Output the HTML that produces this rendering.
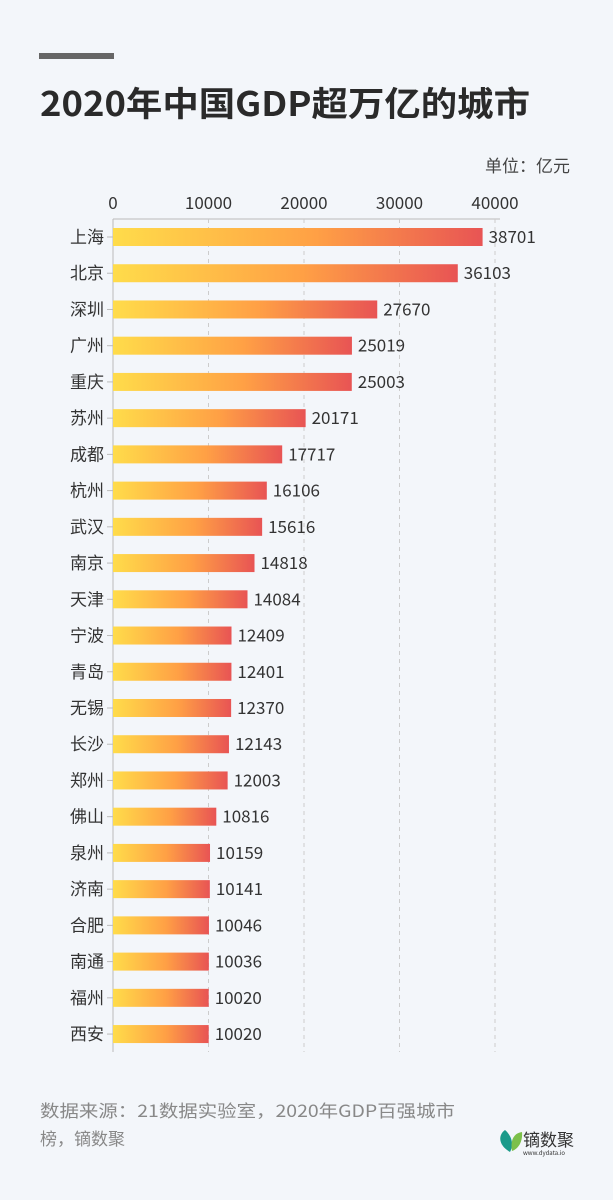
<!DOCTYPE html>
<html><head><meta charset="utf-8"><style>
body{margin:0;background:#f3f6fa;}
svg{display:block;font-family:"Noto Sans CJK SC",sans-serif;}
</style></head><body>
<svg width="613" height="1200" viewBox="0 0 613 1200">
<defs><linearGradient id="g" x1="0" x2="1" y1="0" y2="0">
<stop offset="0" stop-color="#ffdc4a"/><stop offset="0.55" stop-color="#ffa045"/><stop offset="1" stop-color="#e85454"/></linearGradient></defs>
<rect width="613" height="1200" fill="#f3f6fa"/>
<rect x="39" y="53" width="75" height="6" fill="#666"/>
<text x="40" y="116" font-size="34" font-weight="bold" fill="#2a2a2a" textLength="490" lengthAdjust="spacingAndGlyphs">2020年中国GDP超万亿的城市</text>
<text x="570" y="172" font-size="17" fill="#444" text-anchor="end">单位：亿元</text>
<g font-size="17" fill="#333" text-anchor="middle">
<text x="113" y="209">0</text><text x="208.5" y="209">10000</text><text x="304" y="209">20000</text><text x="399.5" y="209">30000</text><text x="495" y="209">40000</text>
</g>
<line x1="113" y1="219" x2="500" y2="219" stroke="#bbb"/>
<line x1="113" y1="219" x2="113" y2="1052" stroke="#bbb"/>
<g stroke="#ccc" stroke-dasharray="4,4"><line x1="208.5" y1="219" x2="208.5" y2="1052"/><line x1="304" y1="219" x2="304" y2="1052"/><line x1="399.5" y1="219" x2="399.5" y2="1052"/><line x1="495" y1="219" x2="495" y2="1052"/></g>
<g id="bars" font-size="17" fill="#333"></g>
<text x="40" y="1117" font-size="17" fill="#888" textLength="415" lengthAdjust="spacingAndGlyphs">数据来源：21数据实验室，2020年GDP百强城市</text>
<text x="40" y="1145" font-size="17" fill="#888">榜，镝数聚</text>
<path d="M510 1152 C498 1145 498 1135 505 1130 C512 1136 514 1145 510 1152Z" fill="#1a9a8a"/>
<path d="M512 1151 C510 1140 514 1133 522 1132 C523 1142 518 1149 512 1151Z" fill="#7cc04a"/>
<text x="523" y="1146" font-size="17" fill="#333">镝数聚</text>
<text x="523" y="1155" font-size="6" fill="#333">www.dydata.io</text>
</svg>
<script>
var d=[["上海",38701],["北京",36103],["深圳",27670],["广州",25019],["重庆",25003],["苏州",20171],["成都",17717],["杭州",16106],["武汉",15616],["南京",14818],["天津",14084],["宁波",12409],["青岛",12401],["无锡",12370],["长沙",12143],["郑州",12003],["佛山",10816],["泉州",10159],["济南",10141],["合肥",10046],["南通",10036],["福州",10020],["西安",10020]];
var g=document.getElementById("bars"),s="";
d.forEach(function(r,i){var cy=237+i*36.23,w=r[1]*0.00955;
s+='<line x1="107" y1="'+cy+'" x2="113" y2="'+cy+'" stroke="#bbb"/>';
s+='<rect x="113" y="'+(cy-9)+'" width="'+w+'" height="18" fill="url(#g)"/>';
s+='<text x="104" y="'+(cy+6)+'" text-anchor="end">'+r[0]+'</text>';
s+='<text x="'+(113+w+6)+'" y="'+(cy+6)+'">'+r[1]+'</text>';});
g.innerHTML=s;
</script>
</body></html>
